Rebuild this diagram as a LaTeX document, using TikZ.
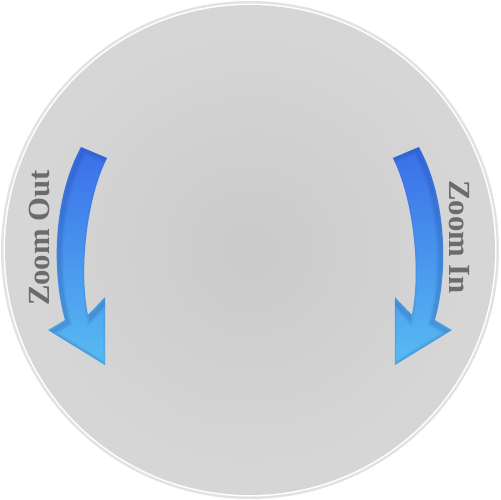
\documentclass[tikz,border=0pt]{standalone}
\usepackage{fontspec}
\setmainfont{Liberation Serif}
\usepackage{tikz}
\usetikzlibrary{arrows.meta}
\definecolor{dialbg}{HTML}{D6D6D6}
\definecolor{dialrim}{HTML}{E2E2E2}
\definecolor{dialmid}{HTML}{CACACA}
\definecolor{arrtop}{HTML}{3A6EE8}
\definecolor{arrbot}{HTML}{58BCF2}
\definecolor{arrshade}{HTML}{1F3F8F}
\definecolor{labelgray}{HTML}{6B6B6B}
\pgfdeclareradialshading{dialglow}{\pgfpoint{0bp}{0bp}}{color(0bp)=(dialmid); color(24bp)=(dialbg); color(50bp)=(dialbg)}
\newcommand{\zoomarrow}{(81,147) -- (107,158)
  .. controls (86,200) and (79,272) .. (88,315)
  -- (105,297) -- (105,365) -- (48,330) -- (65,320)
  .. controls (52,275) and (52,200) .. cycle}
\newcommand{\innershade}{%
  \foreach \w/\o in {5/0.06,3.5/0.08,2/0.1}
    \draw[arrshade, opacity=\o, line width=\w pt, xshift=1.5pt, yshift=-1.5pt] \zoomarrow;}
\tikzset{
  zoomlabel/.style={text=labelgray, font=\fontsize{17.5}{17.5}\selectfont\bfseries, inner sep=0pt},
  arrowfill/.style={top color=arrtop, bottom color=arrbot}
}

\begin{document}
\begin{tikzpicture}[x=0.02cm,y=-0.02cm]
\useasboundingbox (0,0) rectangle (500,500);
\fill[dialrim] (250,250) circle (249);
\fill[white] (250,250) circle (246.5);
\fill[dialbg] (250,250) circle (245);
\shade[shading=dialglow] (250,250) circle (230);
% left arrow
\begin{scope}
\shade[arrowfill] \zoomarrow;
\clip \zoomarrow;
\innershade
\end{scope}
% right arrow, mirrored
\begin{scope}[xshift=10cm, xscale=-1]
\shade[arrowfill] \zoomarrow;
\clip \zoomarrow;
\innershade
\end{scope}
\node[zoomlabel, rotate=90] (zoomout) at (40,238) {Zoom Out};
\node[zoomlabel, rotate=-90] (zoomin) at (459,237) {Zoom In};
\end{tikzpicture}
\end{document}
